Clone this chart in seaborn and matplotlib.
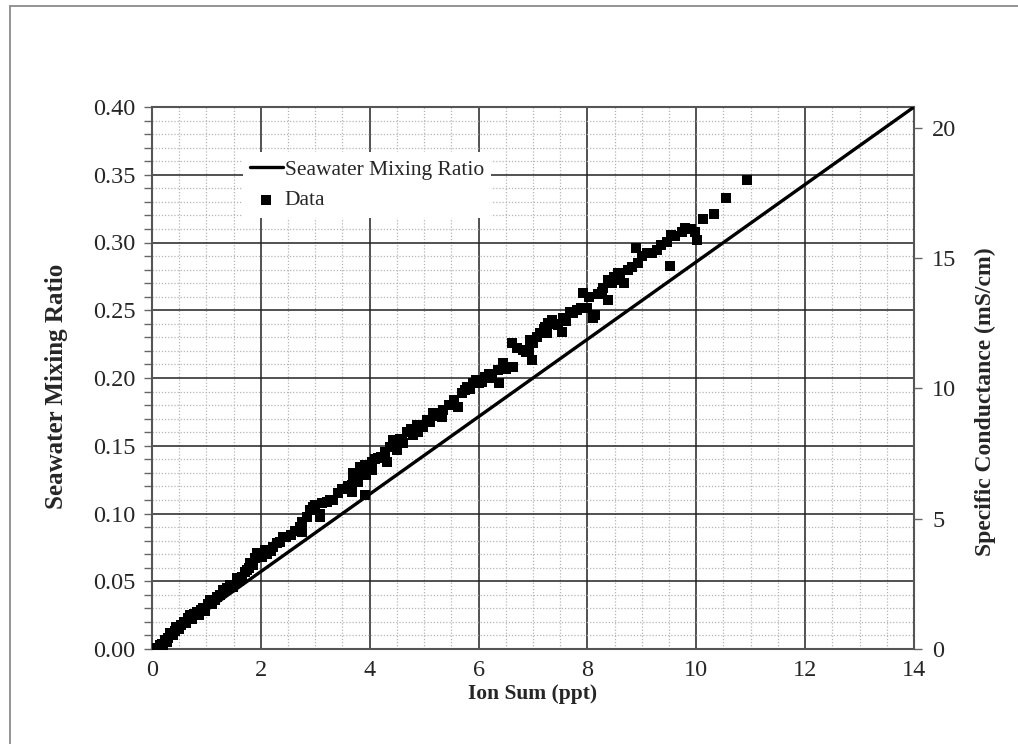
import matplotlib
matplotlib.use("Agg")
import matplotlib.pyplot as plt
import seaborn as sns
import pandas as pd
from matplotlib.ticker import MultipleLocator, FormatStrFormatter
from matplotlib.patches import Rectangle

# ---- data ----
ion_sum = [0.10, 0.12, 0.15, 0.18, 0.20, 0.24, 0.28, 0.30, 0.33, 0.38, 0.42, 0.45, 0.50, 0.53,
           0.58, 0.62, 0.66, 0.70, 0.74, 0.78, 0.82, 0.86, 0.90, 0.94, 0.98, 1.02, 1.07, 1.10,
           1.15, 1.19, 1.25, 1.31, 1.37, 1.43, 1.48, 1.56, 1.60, 1.65, 1.70, 1.74, 1.78, 1.80,
           1.85, 1.89, 1.92, 1.98, 2.02, 2.08, 2.12, 2.18, 2.23, 2.30, 2.35, 2.41, 2.47,
           2.55, 2.62, 2.72, 2.75, 2.75, 2.84, 2.90, 2.96, 2.99, 3.09, 3.09, 3.12, 3.21, 3.27,
           3.33, 3.42, 3.50, 3.60, 3.67, 3.67, 3.70, 3.70, 3.75, 3.79, 3.82, 3.85, 3.91, 3.91,
           3.94, 4.04, 4.04, 4.10, 4.16, 4.20, 4.28, 4.31, 4.37, 4.43, 4.45, 4.50, 4.55, 4.59,
           4.62, 4.68, 4.75, 4.80, 4.86, 4.89, 4.98, 5.05, 5.11, 5.17, 5.25, 5.32, 5.35, 5.45,
           5.54, 5.63, 5.69, 5.75, 5.78, 5.85, 5.90, 5.96, 6.00, 6.06, 6.12, 6.20, 6.25, 6.36,
           6.38, 6.45, 6.50, 6.61, 6.64, 6.70, 6.82, 6.88, 6.92, 6.94, 6.98, 7.00, 7.07, 7.13,
           7.20, 7.22, 7.25, 7.28, 7.34, 7.40, 7.46, 7.53, 7.56, 7.60, 7.68, 7.74, 7.80, 7.89,
           7.92, 8.00, 8.02, 8.11, 8.14, 8.20, 8.26, 8.29, 8.38, 8.38, 8.45, 8.48, 8.57, 8.60,
           8.68, 8.75, 8.81, 8.90, 8.93, 9.00, 9.09, 9.18, 9.27, 9.36, 9.46, 9.52, 9.53, 9.60,
           9.73, 9.79, 9.90, 9.98, 10.02, 10.12, 10.32, 10.54, 10.94]
mixing_ratio = [0.001, 0.0005, 0.003, 0.004, 0.002, 0.0066, 0.005, 0.008, 0.0116, 0.010, 0.013,
                0.0165, 0.015, 0.018, 0.0201, 0.019, 0.023, 0.0251, 0.022, 0.026, 0.0275, 0.025,
                0.029, 0.030, 0.028, 0.033, 0.0362, 0.033, 0.036, 0.0386, 0.040, 0.0435, 0.045,
                0.0472, 0.046, 0.0522, 0.050, 0.0534, 0.057, 0.0583, 0.060, 0.0632, 0.062,
                0.0669, 0.0706, 0.0706, 0.068, 0.073, 0.070, 0.072, 0.0755, 0.078, 0.0792,
                0.0829, 0.0829, 0.084, 0.087, 0.090, 0.0866, 0.094, 0.0976, 0.1026, 0.105,
                0.1063, 0.100, 0.0976, 0.1075, 0.1087, 0.110, 0.110, 0.1149, 0.118, 0.120,
                0.1161, 0.121, 0.1297, 0.128, 0.130, 0.1235, 0.1345, 0.132, 0.1358, 0.1137,
                0.1284, 0.1382, 0.1321, 0.140, 0.1407, 0.142, 0.1456, 0.1382, 0.1493, 0.1542,
                0.150, 0.1469, 0.155, 0.1542, 0.1518, 0.1604, 0.162, 0.158, 0.1653, 0.1604,
                0.164, 0.169, 0.1678, 0.174, 0.172, 0.1714, 0.1764, 0.180, 0.1838, 0.1788,
                0.1887, 0.191, 0.1936, 0.192, 0.196, 0.1985, 0.196, 0.1973, 0.201, 0.203, 0.200,
                0.2059, 0.1966, 0.2113, 0.207, 0.2256, 0.2083, 0.222, 0.2207, 0.2194, 0.221,
                0.228, 0.2133, 0.226, 0.2305, 0.233, 0.236, 0.2379, 0.233, 0.2404, 0.2428, 0.240,
                0.239, 0.234, 0.244, 0.242, 0.249, 0.2477, 0.250, 0.2514, 0.2625, 0.252, 0.260,
                0.244, 0.2465, 0.262, 0.2638, 0.2662, 0.2723, 0.2576, 0.270, 0.2748, 0.2773,
                0.272, 0.270, 0.280, 0.2822, 0.2957, 0.2846, 0.290, 0.292, 0.292, 0.2945, 0.298,
                0.3006, 0.283, 0.3055, 0.305, 0.308, 0.311, 0.310, 0.308, 0.302, 0.317, 0.321,
                0.333, 0.346]
line_ion_sum = [0.0, 14.0]
line_ratio = [0.0, 0.40]
x_ticks = [0, 2, 4, 6, 8, 10, 12, 14]
y_ticks = [0.00, 0.05, 0.10, 0.15, 0.20, 0.25, 0.30, 0.35, 0.40]
cond_ticks = [0, 5, 10, 15, 20]

df = pd.DataFrame({"Ion Sum": ion_sum, "Ratio": mixing_ratio})
df_line = pd.DataFrame({"Ion Sum": line_ion_sum, "Ratio": line_ratio})

sns.set_style("white")
plt.rcParams["font.family"] = ["Liberation Serif", "DejaVu Serif"]

fig = plt.figure(figsize=(10.18, 7.44), dpi=100)
ax = fig.add_axes([152 / 1018, 95 / 744, 762 / 1018, 542 / 744])

# figure frame (left and top edges visible)
fig.patches.append(Rectangle((10 / 1018, -0.1), 1.2, 1 - 6 / 744 + 0.1,
                             transform=fig.transFigure, fill=False,
                             edgecolor="#8a8a8a", lw=1.3))

sns.lineplot(data=df_line, x="Ion Sum", y="Ratio", ax=ax, color="black", lw=2.4,
             label="Seawater Mixing Ratio", zorder=4)
sns.scatterplot(data=df, x="Ion Sum", y="Ratio", ax=ax, color="black", marker="s",
                s=50, edgecolor="black", linewidth=0, label="Data", zorder=5)

ax.set_xlim(0, 14)
ax.set_ylim(0, 0.40)
ax.set_xticks(x_ticks)
ax.set_yticks(y_ticks)
ax.xaxis.set_minor_locator(MultipleLocator(0.5))
ax.yaxis.set_minor_locator(MultipleLocator(0.01))
ax.yaxis.set_major_formatter(FormatStrFormatter("%.2f"))
ax.set_axisbelow(True)
ax.grid(which="major", color="#222222", lw=1.1, ls="-")
ax.grid(which="minor", color="#b5b5b5", lw=0.9, ls=(0, (1, 1.5)))
ax.tick_params(which="both", direction="out", length=6, width=1, color="#666666",
               labelsize=17.5)
ax.tick_params(axis="y", which="both", pad=6)
ax.tick_params(axis="x", which="both", pad=2)
for sp in ax.spines.values():
    sp.set_color("#555555")
    sp.set_linewidth(1.5)

ax.set_xlabel("Ion Sum (ppt)", fontsize=15.5, fontweight="bold", labelpad=2)
ax.set_ylabel("Seawater Mixing Ratio", fontsize=18, fontweight="bold")
ax.yaxis.set_label_coords(-0.110, 0.485)

ax2 = ax.twinx()
ax2.set_ylim(0, 20.8)
ax2.set_yticks(cond_ticks)
ax2.tick_params(axis="y", direction="out", length=6, width=1, color="#666666",
                labelsize=17.5, pad=7)
ax2.set_ylabel("Specific Conductance (mS/cm)", fontsize=17, fontweight="bold")
ax2.yaxis.set_label_coords(1.080, 0.456)
for sp in ax2.spines.values():
    sp.set_visible(False)
ax2.grid(False)

leg = ax.legend(loc="upper left", bbox_to_anchor=(0.119, 0.917), borderaxespad=0,
                frameon=True, fancybox=False, framealpha=1, facecolor="white",
                edgecolor="none", fontsize=15.5, handlelength=1.5, handletextpad=0.1,
                labelspacing=0.5, borderpad=0.35, markerscale=1.0)
leg.set_zorder(10)

fig.savefig("out.png", dpi=100)
